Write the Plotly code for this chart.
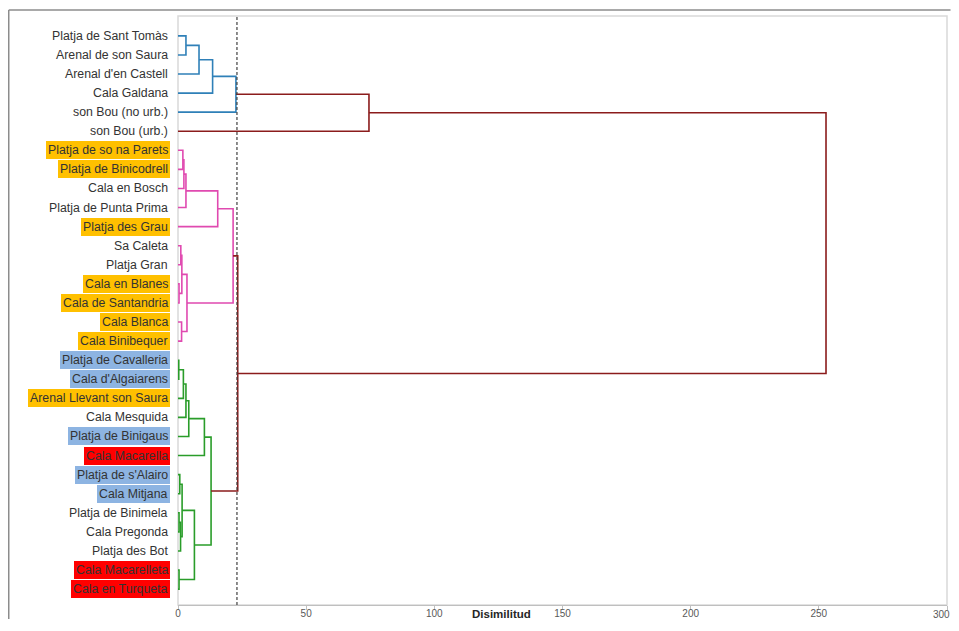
import plotly.graph_objects as go

# ---------------- data ----------------
LEAVES = [
    "Platja de Sant Tomàs", "Arenal de son Saura", "Arenal d'en Castell", "Cala Galdana",
    "son Bou (no urb.)", "son Bou (urb.)", "Platja de so na Parets", "Platja de Binicodrell",
    "Cala en Bosch", "Platja de Punta Prima", "Platja des Grau", "Sa Caleta", "Platja Gran",
    "Cala en Blanes", "Cala de Santandria", "Cala Blanca", "Cala Binibequer",
    "Platja de Cavalleria", "Cala d'Algaiarens", "Arenal Llevant son Saura", "Cala Mesquida",
    "Platja de Binigaus", "Cala Macarella", "Platja de s'Alairo", "Cala Mitjana",
    "Platja de Binimela", "Cala Pregonda", "Platja des Bot", "Cala Macarelleta", "Cala en Turqueta",
]
# label highlight group per leaf ("" = none)
HIGHLIGHT = [
    "", "", "", "", "", "", "orange", "orange", "", "", "orange", "", "", "orange", "orange",
    "orange", "orange", "blue", "blue", "orange", "", "blue", "red", "blue", "blue",
    "", "", "", "red", "red",
]
# cluster of each leaf (for link colours below the cut)
CLUSTER = ["A"] * 5 + ["S"] + ["B"] * 11 + ["C"] * 13

# linkage: new node id = len(LEAVES) + merge index
MERGE_LEFT = [17, 13, 25, 28, 23, 32, 11, 15, 36, 34, 6, 30, 40, 0, 42, 41, 38, 45, 39, 43,
              47, 50, 49, 44, 53, 52, 54, 55, 57]
MERGE_RIGHT = [18, 14, 26, 29, 24, 27, 12, 16, 31, 35, 7, 19, 8, 1, 9, 20, 37, 21, 33, 2,
               22, 48, 3, 10, 46, 4, 51, 5, 56]
MERGE_HEIGHT = [0.3, 0.4, 0.4, 0.4, 0.7, 1.0, 1.1, 1.4, 1.5, 1.6, 1.9, 2.1, 2.3, 3.1, 3.1, 3.1,
                3.5, 4.2, 6.4, 8.2, 10.3, 12.9, 13.5, 15.5, 21.5, 22.6, 23.3, 74.5, 252.8]
CUT = 23.0

X_TICKS = [0, 50, 100, 150, 200, 250, 300]
X_TICK_TEXT = ["0", "50", "100", "150", "200", "250", "300"]
X_TITLE = "Disimilitud"

# ---------------- styles ----------------
CLUSTER_COLORS = {"A": "#2F80B8", "B": "#E04AB0", "C": "#2A9D2A", "S": "#8B1C1C"}
ABOVE_CUT_COLOR = "#8B1C1C"
HL_COLORS = {"orange": "#FFC000", "blue": "#8DB4E2", "red": "#FF0000"}
FONT = "Liberation Sans, Arial, sans-serif"
TICK_FONT = dict(family=FONT, size=10, color="#595959")

# ---------------- build dendrogram geometry ----------------
n = len(LEAVES)
ypos = {i: float(i) for i in range(n)}
hgt = {i: 0.0 for i in range(n)}
clus = {i: CLUSTER[i] for i in range(n)}
segs = {}
for k, (a, b, h) in enumerate(zip(MERGE_LEFT, MERGE_RIGHT, MERGE_HEIGHT)):
    node = n + k
    ypos[node] = (ypos[a] + ypos[b]) / 2
    hgt[node] = h
    clus[node] = clus[a] if clus[a] == clus[b] else None
    if h > CUT or clus[node] is None:
        col = ABOVE_CUT_COLOR
    else:
        col = CLUSTER_COLORS[clus[node]]
    xs, ys = segs.setdefault(col, ([], []))
    xs += [hgt[a], h, h, hgt[b], None]
    ys += [ypos[a], ypos[a], ypos[b], ypos[b], None]

fig = go.Figure()
for col, (xs, ys) in segs.items():
    fig.add_trace(go.Scatter(x=xs, y=ys, mode="lines",
                             line=dict(color=col, width=1.6),
                             hoverinfo="skip", showlegend=False))

# labels as annotations (for highlight backgrounds)
for i, (lab, hl) in enumerate(zip(LEAVES, HIGHLIGHT)):
    fig.add_annotation(
        x=0, xref="paper", y=i, yref="y", text=lab, showarrow=False,
        xanchor="right", yanchor="middle", xshift=-8,
        font=dict(family=FONT, size=12.3, color="#333333"),
        bgcolor=HL_COLORS.get(hl, "rgba(0,0,0,0)"), borderpad=2, borderwidth=0,
    )

# last tick label kept inside the page edge
fig.add_annotation(
    x=X_TICKS[-1], xref="x", y=0, yref="paper", xanchor="right", yanchor="middle",
    xshift=3.5, yshift=-9, text=X_TICK_TEXT[-1], showarrow=False, borderpad=0,
    font=TICK_FONT,
)

# axis title on the tick-label row
fig.add_annotation(
    x=0.4213, xref="paper", y=0, yref="paper", yanchor="middle", yshift=-9,
    text="<b>" + X_TITLE + "</b>", showarrow=False, borderpad=0,
    font=dict(family=FONT, size=11.5, color="#262626"),
)

# cut line
fig.add_shape(type="line", xref="x", yref="paper", x0=CUT, x1=CUT, y0=0, y1=1,
              line=dict(color="#404040", width=1.2, dash="3px,2px"))
# plot area border
fig.add_shape(type="rect", xref="paper", yref="paper", x0=0, x1=1, y0=0, y1=1,
              line=dict(color="#D9D9D9", width=1.5), layer="below")
# outer chart frame (top and left edges)
fig.add_shape(type="line", xref="paper", yref="paper", x0=-0.2201, x1=1.0046, y0=1.0101, y1=1.0101,
              line=dict(color="#8C8C8C", width=1.5), layer="below")
fig.add_shape(type="line", xref="paper", yref="paper", x0=-0.2201, x1=-0.2201, y0=-0.0236, y1=1.0101,
              line=dict(color="#8C8C8C", width=1.5), layer="below")

# page has 8px body margins: 943 + 16 = 959, 615 + 16 = 631
fig.update_layout(
    width=943, height=615,
    margin=dict(l=170, r=4, t=8, b=14),
    paper_bgcolor="white", plot_bgcolor="white",
    hovermode=False,
    xaxis=dict(range=[0, 300], tickvals=X_TICKS, ticktext=X_TICK_TEXT[:-1] + [""],
               ticks="outside", ticklen=4, ticklabelstandoff=-5,
               tickcolor="#BFBFBF", showline=True, linecolor="#BFBFBF", linewidth=1.2,
               showgrid=False, zeroline=False, tickfont=TICK_FONT),
    yaxis=dict(range=[29.833, -1.041], showticklabels=False, showgrid=False, zeroline=False,
               ticks="", showline=False),
)

fig.write_html("out.html", config={"displayModeBar": False, "staticPlot": True})
